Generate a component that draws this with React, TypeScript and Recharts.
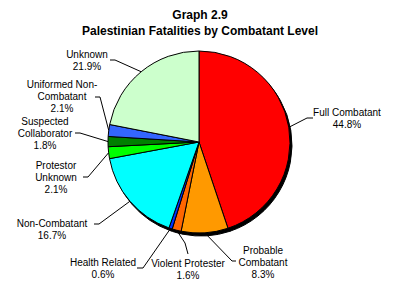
import React from 'react';
import { PieChart, Pie, Cell } from 'recharts';

const categories = [
  'Full Combatant',
  'Probable Combatant',
  'Violent Protester',
  'Health Related',
  'Non-Combatant',
  'Protestor Unknown',
  'Suspected Collaborator',
  'Uniformed Non-Combatant',
  'Unknown',
];
const shares = [44.8, 8.3, 1.6, 0.6, 16.7, 2.1, 1.8, 2.1, 21.9];
const wrappedNames = [
  ['Full Combatant'],
  ['Probable', 'Combatant'],
  ['Violent Protester'],
  ['Health Related'],
  ['Non-Combatant'],
  ['Protestor', 'Unknown'],
  ['Suspected', 'Collaborator'],
  ['Uniformed Non-', 'Combatant'],
  ['Unknown'],
];
const colors = ['#ff0000', '#ff9900', '#ff6600', '#0033ff', '#00ffff', '#00ff00', '#008000', '#3366ff', '#ccffcc'];

// where each label sits: text centre x, first line centre y, leader elbow and end
const labelLayout = [
  { x: 347, y: 112, elbow: [307, 118], end: [313, 118] },
  { x: 263, y: 250, elbow: [232, 261], end: [236, 261] },
  { x: 188, y: 263, elbow: [185, 243], end: [188, 254] },
  { x: 103, y: 262, elbow: [143, 268], end: [137, 268] },
  { x: 52, y: 223, elbow: [99, 224], end: [94, 224] },
  { x: 56, y: 165, elbow: [88, 177], end: [83, 177] },
  { x: 45, y: 121, elbow: [80, 133], end: [75, 133] },
  { x: 62, y: 84, elbow: [100, 97], end: [95, 97] },
  { x: 87, y: 54, elbow: [115, 60], end: [110, 60] },
];

const data = categories.map((name, i) => ({ name, value: shares[i] }));

const RAD = Math.PI / 180;
const FONT = 'Arial, "Liberation Sans", sans-serif';

const renderLabel = (props: any) => {
  const { cx, cy, midAngle, outerRadius, index } = props;
  const ex = cx + outerRadius * Math.cos(-midAngle * RAD);
  const ey = cy + outerRadius * Math.sin(-midAngle * RAD);
  const l = labelLayout[index];
  const lines = [...wrappedNames[index], `${shares[index].toFixed(1)}%`];
  return (
    <g key={`lbl-${index}`}>
      <polyline
        points={`${ex},${ey} ${l.elbow[0]},${l.elbow[1]} ${l.end[0]},${l.end[1]}`}
        fill="none"
        stroke="#000"
        strokeWidth={1}
      />
      {lines.map((t, k) => (
        <text
          key={k}
          x={l.x}
          y={l.y + k * 12}
          textAnchor="middle"
          dominantBaseline="central"
          fontSize={10}
          fontFamily={FONT}
          fill="#000"
        >
          {t}
        </text>
      ))}
    </g>
  );
};

export default function App() {
  return (
    <div style={{ position: 'absolute', left: 0, top: 0, width: 401, height: 288, background: '#fff' }}>
      <PieChart width={401} height={288} margin={{ top: 0, right: 0, bottom: 0, left: 0 }}>
        <text x={200} y={15} textAnchor="middle" dominantBaseline="central" fontSize={12} fontWeight="bold" fontFamily={FONT}>
          Graph 2.9
        </text>
        <text x={200} y={31} textAnchor="middle" dominantBaseline="central" fontSize={12} fontWeight="bold" fontFamily={FONT}>
          Palestinian Fatalities by Combatant Level
        </text>
        {/* shadow under the pie */}
        <Pie
          data={data}
          dataKey="value"
          cx={201}
          cy={145}
          outerRadius={91}
          startAngle={90}
          endAngle={-270}
          fill="#000"
          stroke="#000"
          isAnimationActive={false}
          label={false}
          labelLine={false}
        />
        <Pie
          data={data}
          dataKey="value"
          cx={199}
          cy={142}
          outerRadius={91}
          startAngle={90}
          endAngle={-270}
          stroke="#000"
          strokeWidth={1}
          isAnimationActive={false}
          label={renderLabel}
          labelLine={false}
        >
          {data.map((_, i) => (
            <Cell key={`cell-${i}`} fill={colors[i]} />
          ))}
        </Pie>
      </PieChart>
    </div>
  );
}
